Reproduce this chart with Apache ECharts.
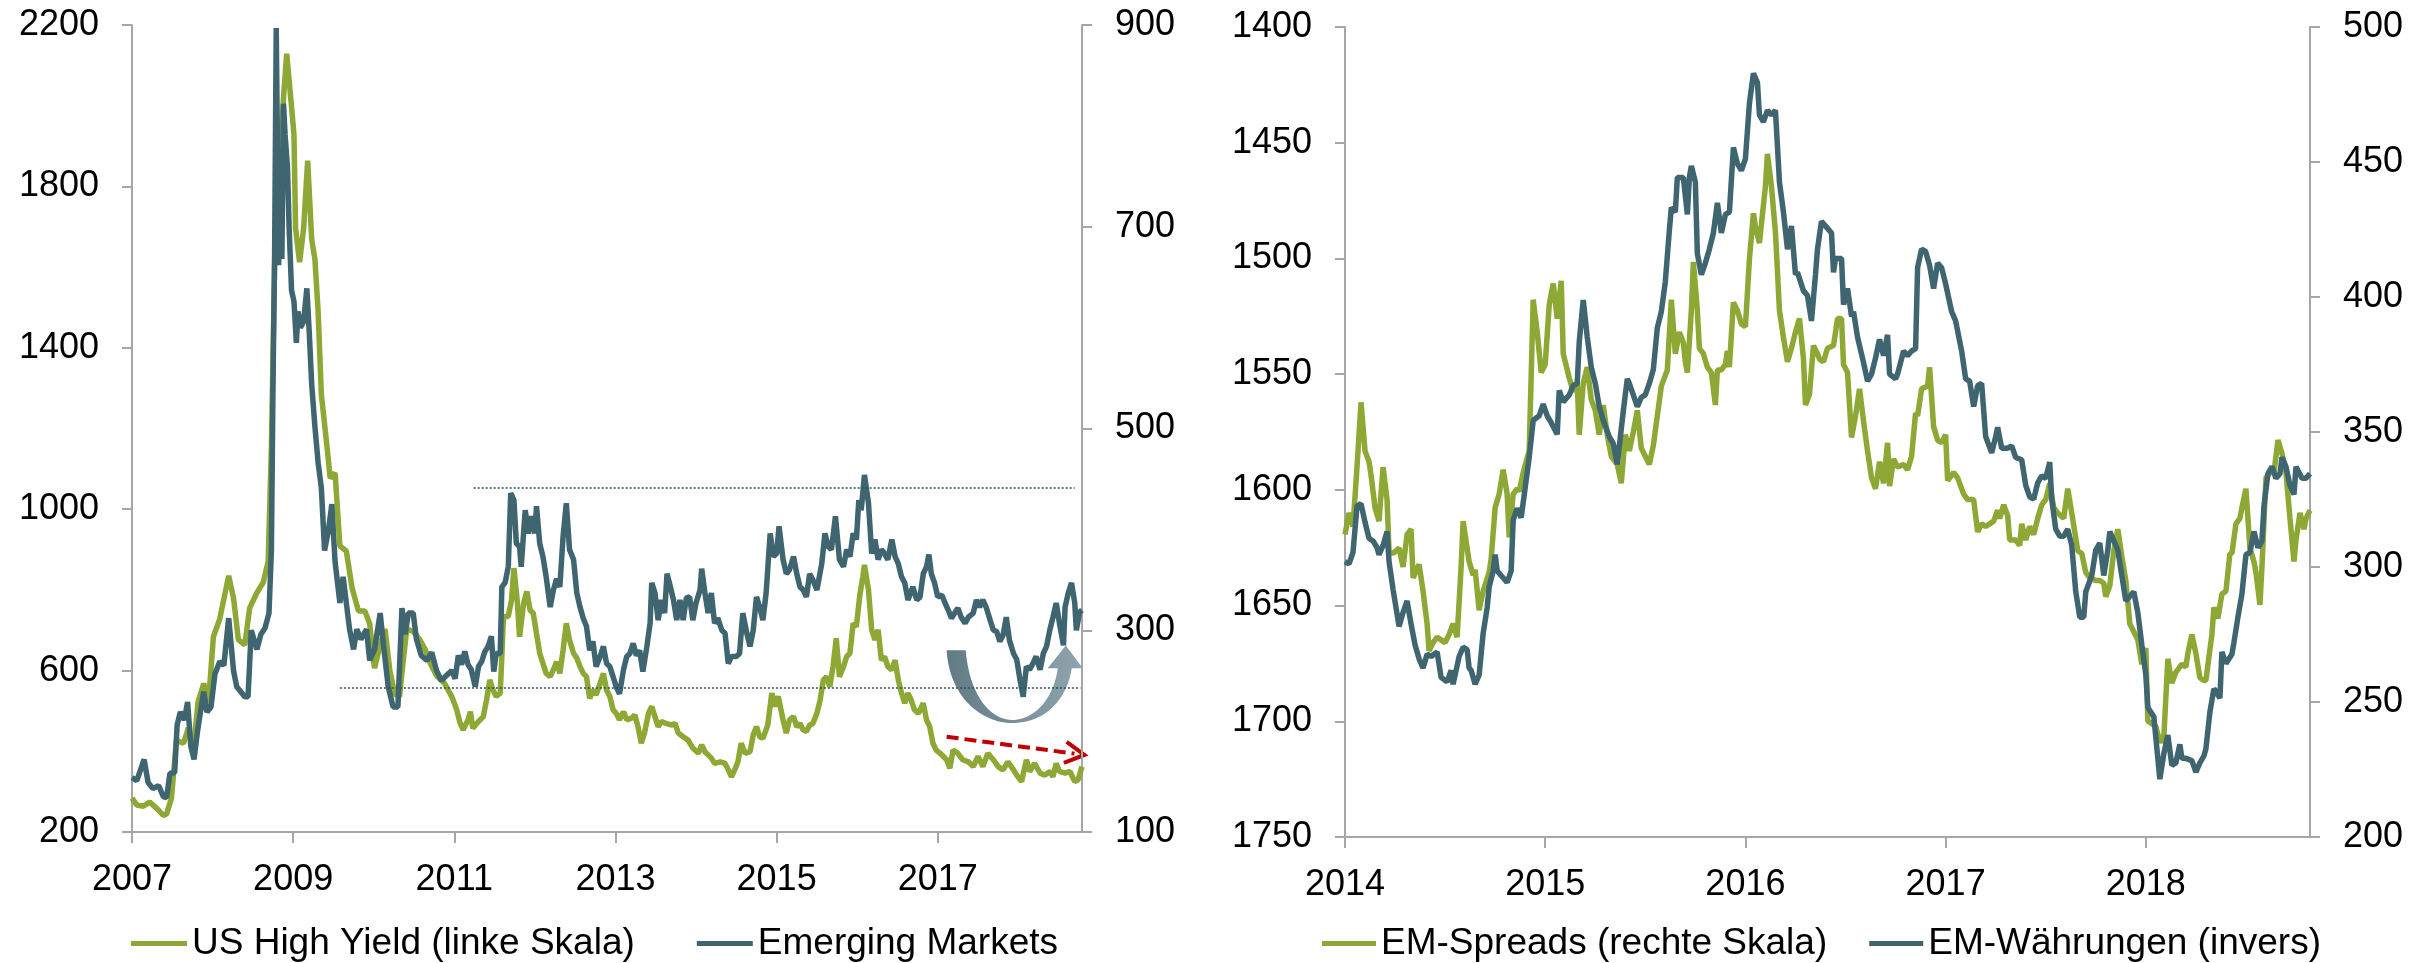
<!DOCTYPE html>
<html>
<head>
<meta charset="utf-8">
<title>Spreads</title>
<script src="https://cdn.jsdelivr.net/npm/echarts@6/dist/echarts.min.js"></script>
<style>
  html, body { margin: 0; padding: 0; background: #fff; }
  #chart { width: 2420px; height: 963px; }
</style>
</head>
<body>
<div id="chart"></div>
<script>
// linkes Diagramm: Zeitpunkte als Dezimaljahre
const hyYears = [2007.00,2007.06,2007.14,2007.22,2007.31,2007.39,2007.43,2007.49,2007.55,2007.64,2007.70,2007.76,2007.82,2007.89,2007.95,2008.01,2008.09,2008.20,2008.26,2008.32,2008.40,2008.46,2008.55,2008.63,2008.69,2008.73,2008.77,2008.83,2008.88,2008.92,2008.97,2009.01,2009.03,2009.08,2009.13,2009.18,2009.23,2009.27,2009.31,2009.35,2009.42,2009.46,2009.52,2009.58,2009.66,2009.73,2009.81,2009.89,2009.95,2010.01,2010.08,2010.14,2010.20,2010.26,2010.32,2010.36,2010.41,2010.49,2010.57,2010.64,2010.70,2010.78,2010.88,2010.97,2011.03,2011.07,
  2011.11,2011.17,2011.20,2011.23,2011.30,2011.36,2011.40,2011.44,2011.48,2011.52,2011.57,2011.59,2011.61,2011.67,2011.71,2011.74,2011.78,2011.81,2011.86,2011.90,2011.94,2011.98,2012.02,2012.06,2012.10,2012.14,2012.19,2012.23,2012.27,2012.31,2012.35,2012.39,2012.43,2012.48,2012.52,2012.56,2012.60,2012.64,2012.68,2012.72,2012.76,2012.81,2012.85,2012.89,2012.93,2012.97,2013.01,2013.05,2013.10,2013.14,2013.20,2013.24,2013.28,2013.32,2013.36,2013.41,2013.45,2013.49,2013.53,2013.57,2013.63,2013.70,2013.74,2013.78,2013.84,2013.90,2013.96,2014.03,2014.07,2014.11,2014.15,2014.19,2014.23,2014.30,2014.36,2014.40,2014.44,2014.48,2014.52,2014.56,2014.61,2014.67,2014.71,2014.75,2014.79,2014.83,2014.89,2014.94,2014.98,2015.02,
  2015.08,2015.12,2015.16,2015.21,2015.25,2015.29,2015.33,2015.37,2015.41,2015.45,2015.50,2015.54,2015.58,2015.62,2015.66,2015.70,2015.74,2015.78,2015.83,2015.87,2015.91,2015.95,2015.99,2016.03,2016.07,2016.09,2016.14,2016.18,2016.22,2016.26,2016.30,2016.34,2016.38,2016.43,2016.47,2016.51,2016.55,2016.59,2016.63,2016.67,2016.71,2016.76,2016.82,2016.86,2016.90,2016.94,2016.98,2017.03,2017.07,2017.11,2017.15,2017.19,2017.25,2017.31,2017.38,2017.44,2017.50,2017.56,2017.62,2017.69,2017.75,2017.81,2017.87,2017.94,2017.98,2018.04,2018.10,2018.14,2018.20,2018.27,2018.33,2018.39,2018.43,2018.47,2018.51,2018.58,2018.64,2018.70,2018.74,2018.79];
const hyValues = [284,267,264,274,258,241,245,284,427,420,458,400,522,568,522,684,729,835,780,677,664,755,793,819,871,1155,1606,1838,2019,2129,2019,1929,1696,1612,1696,1864,1670,1619,1490,1284,1155,1077,1090,909,896,806,748,748,716,606,664,703,600,542,535,613,703,697,677,652,619,587,568,535,503,471,
  453,478,498,457,474,486,527,577,552,536,544,635,734,734,775,854,775,684,767,796,750,742,692,643,618,593,585,602,622,593,651,717,676,643,631,610,593,585,531,552,540,569,593,552,536,503,494,478,498,478,482,490,461,420,445,494,511,486,461,474,469,465,469,445,436,428,408,395,416,399,391,383,370,374,370,354,337,354,374,420,395,399,441,461,436,432,465,544,511,536,
  478,445,478,486,461,469,453,449,465,469,494,527,577,585,560,610,680,585,610,635,643,717,709,783,833,862,800,701,676,701,626,635,610,602,626,577,544,519,544,527,503,494,519,478,461,420,403,395,387,379,358,403,395,379,374,362,387,362,395,379,362,354,374,354,341,325,379,350,370,346,341,350,337,370,350,346,350,325,329,362];

const emYears = [2007.00,2007.06,2007.15,2007.20,2007.26,2007.33,2007.39,2007.43,2007.47,2007.53,2007.56,2007.60,2007.65,2007.69,2007.73,2007.77,2007.81,2007.85,2007.89,2007.93,2007.98,2008.03,2008.09,2008.14,2008.20,2008.26,2008.30,2008.35,2008.40,2008.44,2008.48,2008.55,2008.60,2008.65,2008.70,2008.73,2008.75,2008.77,2008.79,2008.82,2008.84,2008.86,2008.88,2008.90,2008.93,2008.95,2008.98,2009.01,2009.04,2009.06,2009.09,2009.13,2009.17,2009.20,2009.23,2009.27,2009.31,2009.35,2009.39,2009.44,2009.48,2009.52,2009.58,2009.62,2009.70,2009.75,2009.79,2009.84,2009.91,2009.95,2010.01,2010.08,2010.12,2010.18,2010.24,2010.30,2010.35,2010.39,2010.43,2010.49,2010.53,2010.59,2010.66,2010.72,2010.78,2010.84,2010.90,2010.97,2011.01,2011.05,
  2011.09,2011.13,2011.17,2011.21,2011.26,2011.30,2011.34,2011.38,2011.42,2011.46,2011.49,2011.52,2011.57,2011.59,2011.63,2011.67,2011.70,2011.74,2011.77,2011.81,2011.83,2011.88,2011.92,2011.96,2012.00,2012.02,2012.06,2012.10,2012.14,2012.19,2012.23,2012.27,2012.31,2012.35,2012.39,2012.43,2012.48,2012.52,2012.56,2012.60,2012.64,2012.68,2012.72,2012.76,2012.81,2012.85,2012.89,2012.93,2012.97,2013.01,2013.05,2013.10,2013.14,2013.18,2013.22,2013.26,2013.30,2013.34,2013.39,2013.43,2013.45,2013.49,2013.53,2013.57,2013.61,2013.64,2013.67,2013.72,2013.76,2013.80,2013.84,2013.88,2013.92,2013.96,2014.00,2014.05,2014.07,2014.11,2014.15,2014.19,2014.23,2014.27,2014.32,2014.36,2014.40,2014.44,2014.50,2014.54,2014.58,2014.63,2014.67,2014.71,2014.75,2014.79,2014.83,2014.87,2014.92,2014.96,2015.00,2015.03,
  2015.08,2015.12,2015.16,2015.21,2015.25,2015.29,2015.33,2015.37,2015.41,2015.45,2015.50,2015.56,2015.60,2015.64,2015.68,2015.73,2015.78,2015.83,2015.87,2015.91,2015.95,2015.99,2016.02,2016.05,2016.09,2016.14,2016.18,2016.22,2016.26,2016.30,2016.34,2016.38,2016.43,2016.47,2016.51,2016.55,2016.59,2016.63,2016.69,2016.74,2016.78,2016.82,2016.86,2016.89,2016.92,2016.96,2017.00,2017.05,2017.09,2017.13,2017.17,2017.21,2017.25,2017.29,2017.34,2017.38,2017.44,2017.48,2017.52,2017.56,2017.60,2017.65,2017.69,2017.73,2017.77,2017.81,2017.85,2017.89,2017.94,2017.98,2018.02,2018.06,2018.10,2018.14,2018.18,2018.22,2018.27,2018.31,2018.35,2018.39,2018.43,2018.47,2018.51,2018.56,2018.58,2018.62,2018.66,2018.70,2018.72,2018.76,2018.79];
const emValues = [154,151,172,149,143,146,135,134,158,159,206,219,211,229,185,172,198,219,239,219,224,257,269,265,312,260,244,239,234,234,300,281,296,302,317,379,544,673,897,662,750,668,822,791,758,699,637,626,585,616,600,606,639,595,544,502,466,441,379,400,425,368,327,353,301,281,301,291,301,270,281,317,286,244,224,224,322,296,317,317,291,275,270,278,260,250,255,260,252,275,
  266,279,266,261,244,264,269,279,284,294,259,277,277,343,347,363,436,429,386,383,363,419,396,413,396,423,386,373,353,323,340,351,343,393,426,380,370,337,323,312,304,280,289,264,274,284,267,264,254,244,237,261,274,277,287,275,280,259,284,307,347,337,310,330,317,356,347,330,310,330,310,332,333,310,327,340,361,337,317,337,307,312,300,297,267,274,274,277,317,297,284,300,333,323,310,337,396,373,376,403,
  370,356,360,373,356,343,340,333,356,350,340,366,396,383,380,413,370,363,380,373,396,390,429,419,454,426,376,390,370,380,376,370,390,373,366,353,347,330,343,330,333,356,363,375,356,347,333,335,327,320,312,317,322,313,307,313,317,330,323,330,323,310,300,299,289,295,313,290,277,271,251,234,264,261,267,274,261,277,284,300,313,327,307,285,323,337,347,327,300,318,320];

// rechtes Diagramm
const spreadYears = [2014.00,2014.02,2014.03,2014.04,2014.06,2014.08,2014.10,2014.12,2014.13,2014.15,2014.17,2014.19,2014.21,2014.22,2014.24,2014.27,2014.29,2014.31,2014.33,2014.34,2014.37,2014.39,2014.41,2014.42,2014.44,2014.46,2014.48,2014.50,2014.52,2014.54,2014.56,2014.58,2014.59,2014.62,2014.64,2014.65,2014.67,2014.69,2014.72,2014.73,2014.75,2014.77,2014.79,2014.81,2014.82,2014.84,2014.86,2014.87,2014.89,2014.92,2014.94,2014.96,2014.98,2015.00,2015.02,2015.04,2015.06,2015.08,2015.09,2015.12,2015.14,2015.16,2015.17,2015.19,2015.21,2015.23,2015.25,2015.27,2015.29,2015.31,2015.33,2015.36,2015.38,2015.40,2015.42,2015.44,2015.46,2015.48,2015.50,2015.52,2015.54,2015.56,2015.58,2015.61,2015.63,2015.65,
  2015.67,2015.69,2015.70,2015.71,2015.73,2015.74,2015.76,2015.77,2015.79,2015.81,2015.83,2015.85,2015.86,2015.88,2015.90,2015.91,2015.92,2015.94,2015.96,2015.98,2016.00,2016.02,2016.04,2016.05,2016.07,2016.10,2016.11,2016.13,2016.15,2016.17,2016.19,2016.21,2016.23,2016.25,2016.27,2016.29,2016.30,2016.32,2016.34,2016.36,2016.37,2016.39,2016.41,2016.44,2016.46,2016.48,2016.49,2016.51,2016.53,2016.55,2016.57,2016.59,2016.61,2016.63,2016.65,2016.67,2016.69,2016.71,2016.72,2016.74,2016.76,2016.79,2016.81,2016.83,2016.85,2016.86,2016.88,2016.91,2016.92,2016.94,2016.96,2016.98,2017.00,2017.01,2017.04,2017.06,2017.09,2017.11,2017.14,2017.16,2017.18,2017.20,
  2017.24,2017.26,2017.27,2017.29,2017.31,2017.32,2017.35,2017.37,2017.38,2017.40,2017.42,2017.44,2017.46,2017.48,2017.50,2017.52,2017.54,2017.56,2017.59,2017.61,2017.63,2017.66,2017.68,2017.70,2017.72,2017.75,2017.77,2017.79,2017.80,2017.82,2017.84,2017.86,2017.88,2017.90,2017.92,2017.94,2017.96,2017.98,2018.00,2018.01,2018.03,2018.05,2018.06,2018.08,2018.09,2018.11,2018.13,2018.15,2018.18,2018.20,2018.21,2018.23,2018.25,2018.27,2018.29,2018.30,2018.33,2018.34,2018.36,2018.38,2018.40,2018.42,2018.43,2018.45,2018.47,2018.48,2018.50,2018.52,2018.54,2018.55,2018.57,2018.58,2018.60,2018.62,2018.64,2018.66,2018.68,2018.70,2018.72,2018.74,2018.75,2018.77,2018.79,2018.80,2018.82];
const spreadValues = [312,320,318,315,337,361,343,339,334,322,317,337,325,306,305,307,300,312,314,296,301,291,279,269,272,274,273,272,275,279,274,300,317,302,297,299,284,291,298,303,322,327,336,327,311,327,329,328,335,343,399,387,372,375,397,405,392,406,379,370,365,368,349,368,374,362,358,349,360,349,341,338,331,349,343,350,358,344,341,338,345,356,367,373,399,379,
  387,383,376,372,395,413,395,381,379,374,372,360,373,373,375,380,374,398,395,390,389,414,431,426,420,441,453,441,424,395,385,376,381,387,392,377,360,364,382,379,377,376,381,382,392,392,375,372,348,356,366,354,343,333,329,339,331,346,330,340,337,338,336,341,357,356,366,367,374,352,347,346,349,332,335,333,327,325,325,313,316,315,
  317,321,318,323,319,310,310,308,316,310,315,312,318,323,325,331,322,320,318,329,320,306,305,298,296,295,295,294,289,293,306,314,304,295,279,276,273,264,270,243,242,241,238,235,237,266,257,261,264,263,268,275,268,259,258,258,275,285,281,290,291,305,305,316,318,322,329,307,302,298,286,300,333,335,335,347,342,335,318,302,310,320,314,318,321];

const fxYears = [2014.00,2014.02,2014.04,2014.06,2014.08,2014.10,2014.12,2014.14,2014.16,2014.17,2014.19,2014.21,2014.22,2014.24,2014.27,2014.29,2014.31,2014.33,2014.35,2014.37,2014.39,2014.41,2014.43,2014.46,2014.48,2014.51,2014.53,2014.54,2014.57,2014.59,2014.61,2014.62,2014.63,2014.65,2014.67,2014.69,2014.71,2014.72,2014.74,2014.75,2014.76,2014.78,2014.81,2014.83,2014.84,2014.86,2014.88,2014.90,2014.92,2014.94,2014.97,2014.99,2015.01,2015.03,2015.06,2015.07,2015.09,2015.12,2015.14,2015.16,2015.17,2015.19,2015.21,2015.23,2015.25,2015.27,2015.29,2015.32,2015.34,2015.36,2015.39,2015.41,2015.42,2015.44,2015.46,2015.48,2015.50,2015.52,2015.54,2015.56,2015.58,2015.60,2015.62,
  2015.63,2015.65,2015.66,2015.69,2015.71,2015.72,2015.73,2015.75,2015.76,2015.78,2015.80,2015.82,2015.84,2015.86,2015.88,2015.90,2015.92,2015.94,2015.96,2015.98,2016.00,2016.02,2016.04,2016.06,2016.07,2016.09,2016.11,2016.13,2016.15,2016.17,2016.19,2016.21,2016.23,2016.25,2016.26,2016.29,2016.31,2016.33,2016.35,2016.36,2016.38,2016.41,2016.43,2016.44,2016.45,2016.48,2016.49,2016.51,2016.53,2016.54,2016.56,2016.59,2016.61,2016.63,2016.65,2016.67,2016.69,2016.71,2016.72,2016.75,2016.76,2016.79,2016.81,2016.83,2016.85,2016.86,2016.88,2016.90,2016.92,2016.94,2016.96,2016.98,2017.00,2017.03,2017.05,2017.08,2017.10,2017.12,2017.14,2017.16,2017.18,2017.20,
  2017.23,2017.25,2017.26,2017.28,2017.31,2017.33,2017.35,2017.38,2017.40,2017.42,2017.44,2017.46,2017.48,2017.50,2017.52,2017.53,2017.55,2017.57,2017.59,2017.61,2017.63,2017.65,2017.67,2017.69,2017.70,2017.73,2017.75,2017.77,2017.79,2017.81,2017.82,2017.84,2017.86,2017.88,2017.90,2017.92,2017.94,2017.96,2017.98,2018.00,2018.01,2018.04,2018.05,2018.07,2018.09,2018.11,2018.13,2018.15,2018.17,2018.18,2018.20,2018.23,2018.25,2018.27,2018.29,2018.30,2018.32,2018.34,2018.35,2018.37,2018.38,2018.40,2018.43,2018.44,2018.46,2018.48,2018.50,2018.52,2018.54,2018.56,2018.58,2018.59,2018.61,2018.63,2018.65,2018.67,2018.68,2018.70,2018.72,2018.74,2018.75,2018.78,2018.80,2018.82];
const fxValues = [1631,1632,1627,1607,1606,1614,1621,1622,1625,1628,1624,1618,1631,1643,1659,1653,1648,1658,1667,1673,1677,1671,1672,1670,1681,1683,1678,1684,1672,1668,1669,1677,1678,1684,1680,1662,1651,1642,1635,1628,1635,1637,1640,1635,1613,1608,1612,1599,1586,1570,1568,1563,1568,1571,1576,1557,1562,1559,1555,1554,1536,1518,1534,1547,1554,1564,1570,1577,1580,1589,1566,1552,1554,1559,1564,1560,1559,1554,1548,1530,1523,1510,1488,
  1478,1480,1465,1465,1481,1465,1460,1467,1498,1507,1502,1496,1489,1476,1489,1481,1480,1452,1459,1462,1457,1433,1420,1424,1438,1441,1436,1438,1436,1467,1480,1496,1486,1507,1506,1514,1516,1527,1507,1496,1484,1487,1489,1506,1500,1500,1520,1513,1525,1523,1534,1545,1553,1550,1543,1535,1542,1533,1550,1552,1550,1540,1542,1540,1539,1504,1496,1497,1503,1513,1502,1504,1511,1523,1527,1540,1552,1553,1564,1555,1554,1577,
  1584,1577,1573,1582,1582,1581,1586,1587,1598,1603,1604,1597,1594,1595,1588,1604,1617,1620,1620,1617,1624,1644,1655,1655,1644,1637,1626,1623,1637,1626,1618,1622,1626,1637,1648,1646,1644,1653,1667,1680,1694,1698,1707,1725,1714,1706,1719,1718,1710,1716,1716,1717,1722,1718,1715,1712,1696,1686,1687,1690,1670,1675,1671,1666,1655,1645,1628,1627,1618,1625,1622,1607,1593,1590,1595,1593,1586,1590,1598,1602,1590,1595,1595,1593];

const leftTicks = [2007, 2009, 2011, 2013, 2015, 2017];
const rightTicks = [2014, 2015, 2016, 2017, 2018];

// Markierungen im linken Diagramm (EM-Skala bzw. HY-Skala)
const emLevels = [
  { from: 2011.24, to: 2018.70, value: 441 },
  { from: 2009.58, to: 2018.77, value: 243 }
];
const uTurnBox = { from: [2017.11, 285], to: [2018.80, 208] };     // EM-Skala
const redArrow = { from: [2017.11, 436], to: [2018.82, 391] };      // HY-Skala

const GREEN = '#8DA834';
const BLUE = '#3E6570';
const AXIS = '#A6A6A6';
const FONT = '"Liberation Sans", Arial, sans-serif';

const pairs = (xs, ys) => xs.map((x, i) => [x, ys[i]]);
const plain = v => String(v);

function xAxisOf(gridIndex, min, max, ticks) {
  return {
    gridIndex, type: 'value', min, max,
    axisLine: { show: true, onZero: false, lineStyle: { color: AXIS, width: 2 } },
    axisTick: { show: true, length: 11, customValues: ticks, lineStyle: { color: AXIS, width: 2 } },
    axisLabel: { customValues: ticks, formatter: plain, margin: 30, color: '#000', fontSize: 36, fontFamily: FONT },
    splitLine: { show: false }
  };
}

function yAxisOf(gridIndex, position, min, max, interval, inverse) {
  return {
    gridIndex, type: 'value', position, min, max, interval, inverse: !!inverse,
    axisLine: { show: true, onZero: false, lineStyle: { color: AXIS, width: 2 } },
    axisTick: { show: true, length: 10, lineStyle: { color: AXIS, width: 2 } },
    axisLabel: { formatter: plain, margin: 33, color: '#000', fontSize: 36, fontFamily: FONT },
    splitLine: { show: false }
  };
}

function lineSeries(name, xIdx, yIdx, xs, ys, color) {
  return {
    name, type: 'line', xAxisIndex: xIdx, yAxisIndex: yIdx,
    data: pairs(xs, ys),
    showSymbol: false, symbol: 'none',
    lineStyle: { color, width: 5.5 },
    itemStyle: { color },
    emphasis: { disabled: true }
  };
}

const legendText = { fontSize: 37, color: '#000', fontFamily: FONT };

const chart = echarts.init(document.getElementById('chart'));

const emSeries = lineSeries('Emerging Markets', 0, 1, emYears, emValues, BLUE);
emSeries.markLine = {
  silent: true,
  symbol: ['none', 'none'],
  label: { show: false },
  lineStyle: { color: '#24535E', width: 1.5, type: [2, 2] },
  data: emLevels.map(l => [{ coord: [l.from, l.value] }, { coord: [l.to, l.value] }])
};

chart.setOption({
  animation: false,
  grid: [
    { left: 132, top: 25, width: 950, height: 807 },
    { left: 1345, top: 27, width: 965, height: 810 }
  ],
  xAxis: [
    xAxisOf(0, 2007, 2018.79, leftTicks),
    xAxisOf(1, 2014, 2018.82, rightTicks)
  ],
  yAxis: [
    yAxisOf(0, 'left', 200, 2200, 400),
    yAxisOf(0, 'right', 100, 900, 200),
    yAxisOf(1, 'left', 1400, 1750, 50, true),
    yAxisOf(1, 'right', 200, 500, 50)
  ],
  legend: [
    {
      data: ['US High Yield (linke Skala)', 'Emerging Markets'],
      left: 126, top: 920, icon: 'rect', itemWidth: 56, itemHeight: 5, itemGap: 62,
      textStyle: legendText
    },
    {
      data: ['EM-Spreads (rechte Skala)', 'EM-Währungen (invers)'],
      left: 1317, top: 920, icon: 'rect', itemWidth: 54, itemHeight: 5, itemGap: 42,
      textStyle: legendText
    }
  ],
  series: [
    lineSeries('US High Yield (linke Skala)', 0, 0, hyYears, hyValues, GREEN),
    emSeries,
    lineSeries('EM-Spreads (rechte Skala)', 1, 3, spreadYears, spreadValues, GREEN),
    lineSeries('EM-Währungen (invers)', 1, 2, fxYears, fxValues, BLUE)
  ]
});

// Pfeile als Grafik, verankert an Datenkoordinaten
const p0 = chart.convertToPixel({ seriesIndex: 1 }, uTurnBox.from);
const p1 = chart.convertToPixel({ seriesIndex: 1 }, uTurnBox.to);
const a0 = chart.convertToPixel({ seriesIndex: 0 }, redArrow.from);
const a1 = chart.convertToPixel({ seriesIndex: 0 }, redArrow.to);

// U-Pfeil: Umriss in einer 136x78-Skizze, auf die Box abgebildet
const uSketch = [
  ['M', 0, 5],
  ['C', 3, 55, 38, 78, 65, 78],
  ['C', 98, 78, 120, 55, 125, 23],
  ['L', 136, 23], ['L', 119, 0], ['L', 101, 23], ['L', 111, 23],
  ['C', 107, 53, 88, 75, 65, 75],
  ['C', 43, 74, 23, 50, 19, 5]
];
function sketchPoints(cmds) {
  const pts = [];
  let cur = [0, 0];
  cmds.forEach(c => {
    if (c[0] === 'M' || c[0] === 'L') {
      cur = [c[1], c[2]];
      pts.push(cur);
    } else {
      const [x1, y1, x2, y2, x3, y3] = c.slice(1);
      for (let i = 1; i <= 24; i++) {
        const t = i / 24, u = 1 - t;
        pts.push([
          u * u * u * cur[0] + 3 * u * u * t * x1 + 3 * u * t * t * x2 + t * t * t * x3,
          u * u * u * cur[1] + 3 * u * u * t * y1 + 3 * u * t * t * y2 + t * t * t * y3
        ]);
      }
      cur = [x3, y3];
    }
  });
  const sx = (p1[0] - p0[0]) / 136, sy = (p1[1] - p0[1]) / 78;
  return pts.map(p => [p0[0] + p[0] * sx, p0[1] + p[1] * sy]);
}

const ang = Math.atan2(a1[1] - a0[1], a1[0] - a0[0]);
const headLen = 22, headAng = 0.5;
const head = [
  [a1[0] - headLen * Math.cos(ang - headAng), a1[1] - headLen * Math.sin(ang - headAng)],
  a1,
  [a1[0] - headLen * Math.cos(ang + headAng), a1[1] - headLen * Math.sin(ang + headAng)]
];
const shaftEnd = [a1[0] - 10 * Math.cos(ang), a1[1] - 10 * Math.sin(ang)];

chart.setOption({
  graphic: [
    {
      type: 'polygon',
      silent: true,
      shape: { points: sketchPoints(uSketch) },
      style: {
        fill: {
          type: 'linear', x: 0, y: 0, x2: 1, y2: 0,
          colorStops: [
            { offset: 0, color: '#627B84' },
            { offset: 1, color: '#8FA5AD' }
          ]
        }
      }
    },
    {
      type: 'polyline',
      silent: true,
      shape: { points: [a0, shaftEnd] },
      style: { stroke: '#C00000', lineWidth: 4, lineDash: [12, 6], fill: null }
    },
    {
      type: 'polyline',
      silent: true,
      shape: { points: head },
      style: { stroke: '#C00000', lineWidth: 4, fill: null }
    }
  ]
});
</script>
</body>
</html>
